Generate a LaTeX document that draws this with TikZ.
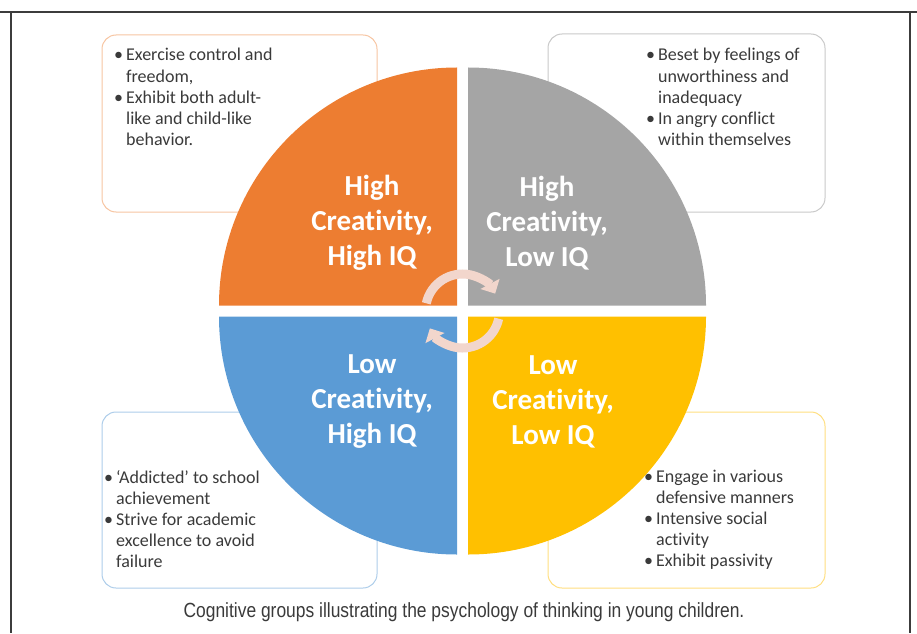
\documentclass[tikz,border=0pt]{standalone}
\usepackage{fontspec}
\setmainfont[Ligatures=NoCommon]{Carlito}
\newfontfamily\capfont[FakeStretch=0.85]{Liberation Sans}
\usetikzlibrary{arrows.meta}
\definecolor{hhorange}{HTML}{ED7D31}
\definecolor{hlgray}{HTML}{A5A5A5}
\definecolor{lhblue}{HTML}{5B9BD5}
\definecolor{llgold}{HTML}{FFC000}
\definecolor{notegray}{HTML}{3A3A3A}
\definecolor{cyclepink}{HTML}{F2D6CC}
\definecolor{framegray}{HTML}{3C3C3C}

\begin{document}
\begin{tikzpicture}[x=1pt, y=1pt,
  box/.style = {rounded corners=14pt, line width=1pt, fill=white},
  note/.style = {anchor=base west, inner sep=0pt, text=notegray,
    font=\fontsize{18}{21.2}\selectfont},
  quad/.style = {text=white, align=center,
    font=\fontsize{29}{35}\selectfont\bfseries},
  turn/.style = {line width=9pt, draw=cyclepink,
    -{Triangle[width=21pt,length=11pt]}}]
  \useasboundingbox (0,0) rectangle (917,633);
  \draw[framegray, line width=1.3pt] (0,621) -- (917,621);
  \draw[framegray, line width=1.3pt] (11,621) -- (11,0);
  \draw[framegray, line width=1.3pt] (910,621) -- (910,0);

  \draw[box, draw=hhorange!45] (102,421) rectangle (377,598);
  \draw[box, draw=hlgray!60] (548,421) rectangle (825,599);
  \draw[box, draw=lhblue!50] (102,45) rectangle (377,221);
  \draw[box, draw=llgold!50] (548,45) rectangle (825,221);

  \node[note] (hhnote) at (114,572) {\begin{tabular}[t]{@{}l@{\hspace{3pt}}l@{}}
    \textbullet & Exercise control and\\ & freedom,\\
    \textbullet & Exhibit both adult-\\ & like and child-like\\ & behavior.
  \end{tabular}};
  \node[note] (hlnote) at (646,572) {\begin{tabular}[t]{@{}l@{\hspace{3pt}}l@{}}
    \textbullet & Beset by feelings of\\ & unworthiness and\\ & inadequacy\\
    \textbullet & In angry conflict\\ & within themselves
  \end{tabular}};
  \node[note] (lhnote) at (104,150) {\begin{tabular}[t]{@{}l@{\hspace{3pt}}l@{}}
    \textbullet & `Addicted' to school\\ & achievement\\
    \textbullet & Strive for academic\\ & excellence to avoid\\ & failure
  \end{tabular}};
  \node[note] (llnote) at (644,151) {\begin{tabular}[t]{@{}l@{\hspace{3pt}}l@{}}
    \textbullet & Engage in various\\ & defensive manners\\
    \textbullet & Intensive social\\ & activity\\
    \textbullet & Exhibit passivity
  \end{tabular}};

  \coordinate (mid) at (462.5,322);
  \fill[hhorange] (457,327.5) -- ++(-238,0) arc (180:90:238) -- cycle;
  \fill[hlgray] (468,327.5) -- ++(0,238) arc (90:0:238) -- cycle;
  \fill[lhblue] (457,316.5) -- ++(0,-238) arc (270:180:238) -- cycle;
  \fill[llgold] (468,316.5) -- ++(238,0) arc (0:-90:238) -- cycle;

  \node[quad] (hh) at (372,410) {High\\Creativity,\\High IQ};
  \node[quad] (hl) at (547,410) {High\\Creativity,\\Low IQ};
  \node[quad] (lh) at (372,231) {Low\\Creativity,\\High IQ};
  \node[quad] (ll) at (553,231) {Low\\Creativity,\\Low IQ};

  \draw[turn] (mid) ++(168:37) arc (168:28:37);
  \draw[turn] (mid) ++(-12:37) arc (-12:-152:37);

  \node[font=\capfont\fontsize{20.5}{24}\selectfont, text=notegray] (caption) at (464,21)
    {Cognitive groups illustrating the psychology of thinking in young children.};
\end{tikzpicture}
\end{document}
